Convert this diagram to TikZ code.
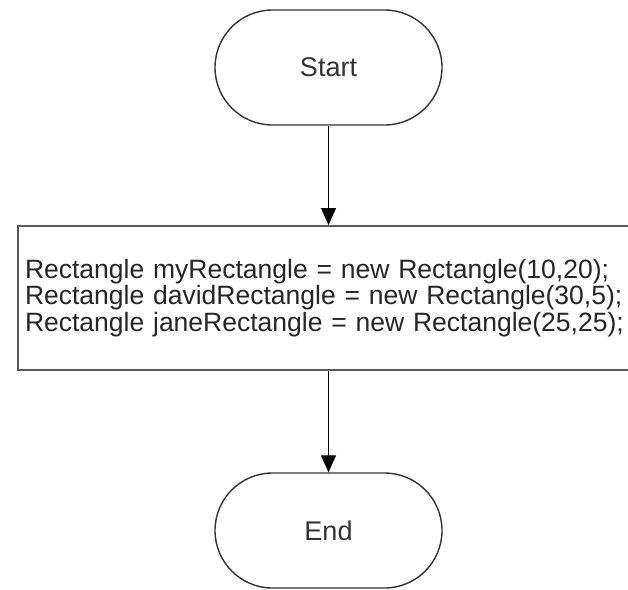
\documentclass[tikz,border=0pt]{standalone}
\usepackage{fontspec}
\setmainfont{Liberation Sans}
\usetikzlibrary{arrows.meta,shapes.misc}
\begin{document}
\begin{tikzpicture}[x=1pt,y=-1pt,
  terminal/.style={draw=black!80, line width=1.4pt, rounded rectangle,
    minimum width=227pt, minimum height=115pt, inner sep=0pt,
    font=\fontsize{27}{29}\selectfont, text=black!80},
  procbox/.style={draw=black!65, line width=2pt, rectangle,
    minimum height=144pt, text width=626pt, inner xsep=7pt, inner ysep=0pt,
    align=left, font=\fontsize{26.5}{26.5}\selectfont, text=black!85},
  flow/.style={draw=black, line width=1.3pt,
    -{Triangle[width=15pt,length=17pt]}}]
\useasboundingbox (0,0) rectangle (628,589);
\clip (0,0) rectangle (628,589);
\node[terminal] (start) at (328.5,67.5) {Start};
\node[procbox, anchor=north west] (init) at (17,225) {Rectangle myRectangle = new Rectangle(10,20);\\
Rectangle davidRectangle = new Rectangle(30,5);\\
Rectangle janeRectangle = new Rectangle(25,25);};
\node[terminal] (end) at (328.5,530.5) {End};
\draw[flow] (start.south) -- (start.south |- init.north);
\draw[flow] (init.south -| end.north) -- (end.north);
\end{tikzpicture}
\end{document}
